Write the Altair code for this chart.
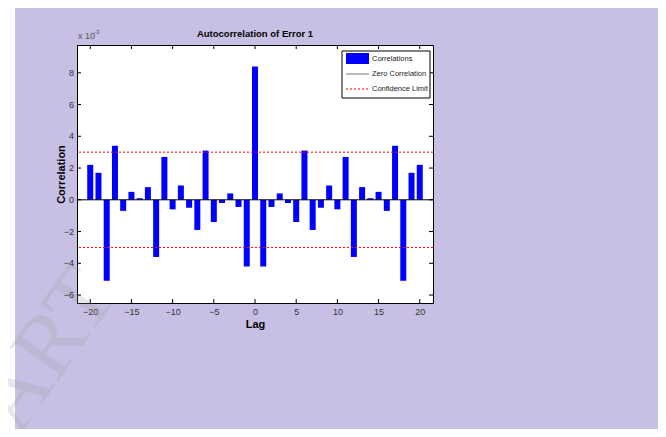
import altair as alt
import pandas as pd

# ---- data (values in units of 1e-3) ----
lags = list(range(-20, 21))
corr = [2.2, 1.7, -5.1, 3.4, -0.7, 0.5, 0.1, 0.8, -3.6, 2.7, -0.6, 0.9, -0.5, -1.9, 3.1, -1.4, -0.2, 0.4, -0.45, -4.2,
        8.4,
        -4.2, -0.45, 0.4, -0.2, -1.4, 3.1, -1.9, -0.5, 0.9, -0.6, 2.7, -3.6, 0.8, 0.1, 0.5, -0.7, 3.4, -5.1, 1.7, 2.2]
conf_limits = [3.0, -3.0]
x_ticks = [-20, -15, -10, -5, 0, 5, 10, 15, 20]
y_ticks = [-6, -4, -2, 0, 2, 4, 6, 8]
x_domain = [-21, 21]
y_domain = [-6.5, 9.75]

W, H = 356, 258
FONT = "Liberation Sans, Arial, sans-serif"
LAV = "#c8c0e4"

df = pd.DataFrame({"lag": lags, "corr": corr})
conf_df = pd.DataFrame({"corr": conf_limits})
xt_df = pd.DataFrame({"lag": x_ticks})
yt_df = pd.DataFrame({"corr": y_ticks})
one = pd.DataFrame({"z": [0]})

xs = alt.Scale(domain=x_domain, nice=False, zero=False)
ys = alt.Scale(domain=y_domain, nice=False, zero=False)

X_ENC = alt.X("lag:Q", scale=xs, title="Lag",
              axis=alt.Axis(values=x_ticks, ticks=False, grid=False, labelPadding=4,
                            labelFontSize=9, labelColor="#333", labelFont=FONT, labelOverlap=False,
                            titleFont=FONT, titleFontSize=11, titleFontWeight="bold", titlePadding=2,
                            domainColor="black"))
Y_ENC = alt.Y("corr:Q", scale=ys, title="Correlation",
              axis=alt.Axis(values=y_ticks, ticks=False, grid=False, labels=False,
                            titleFont=FONT, titleFontSize=11, titleFontWeight="bold", titlePadding=11,
                            domainColor="black"))

bars = alt.Chart(df).mark_bar(color="#0000ff", size=6).encode(x=X_ENC, y=Y_ENC)

zero = alt.Chart(one).mark_rule(color="black", strokeWidth=1).encode(y=alt.datum(0))

conf = alt.Chart(conf_df).mark_rule(color="red", strokeWidth=1, strokeDash=[2, 2]).encode(y=Y_ENC)

tick_bottom = alt.Chart(xt_df).mark_rule(color="black").encode(
    x=X_ENC, y=alt.value(H), y2=alt.value(H - 4))
tick_top = alt.Chart(xt_df).mark_rule(color="black").encode(
    x=X_ENC, y=alt.value(0), y2=alt.value(4))
tick_left = alt.Chart(yt_df).mark_rule(color="black").encode(
    y=Y_ENC, x=alt.value(0), x2=alt.value(4))
tick_right = alt.Chart(yt_df).mark_rule(color="black").encode(
    y=Y_ENC, x=alt.value(W), x2=alt.value(W - 4))
y_labels = alt.Chart(yt_df).mark_text(align="right", baseline="middle", font=FONT, fontSize=9,
                                      color="#333").encode(
    y=Y_ENC, x=alt.value(-3), text=alt.Text("corr:Q", format="d"))

# ---- legend box ----
leg_box = alt.Chart(one).mark_rect(fill="white", stroke="black", strokeWidth=1).encode(
    x=alt.value(265), x2=alt.value(353), y=alt.value(6), y2=alt.value(53))
leg_bar = alt.Chart(one).mark_rect(fill="#0000ff").encode(
    x=alt.value(269), x2=alt.value(292), y=alt.value(8), y2=alt.value(19))
leg_zero = alt.Chart(one).mark_rule(color="#777", strokeWidth=1).encode(
    x=alt.value(269), x2=alt.value(292), y=alt.value(29))
leg_conf = alt.Chart(one).mark_rule(color="red", strokeWidth=1, strokeDash=[2, 2]).encode(
    x=alt.value(269), x2=alt.value(292), y=alt.value(44))
leg_names = ["Correlations", "Zero Correlation", "Confidence Limit"]
leg_y = [14, 29, 44]
leg_texts = [
    alt.Chart(one).mark_text(text=n, align="left", baseline="middle", font=FONT, fontSize=7.5,
                             color="#222").encode(x=alt.value(295), y=alt.value(yy))
    for n, yy in zip(leg_names, leg_y)
]

# ---- title & scale factor label ----
title = alt.Chart(one).mark_text(text="Autocorrelation of Error 1", align="center", baseline="alphabetic",
                                 font=FONT, fontSize=9.5, fontWeight="bold", color="black").encode(
    x=alt.value(W / 2), y=alt.value(-8))
sf = alt.Chart(one).mark_text(text="x 10", align="left", baseline="alphabetic", font=FONT, fontSize=9,
                              color="#555").encode(x=alt.value(1), y=alt.value(-6))
sf_exp = alt.Chart(one).mark_text(text="-3", align="left", baseline="alphabetic", font=FONT, fontSize=6,
                                  color="#555").encode(x=alt.value(17), y=alt.value(-11))

# ---- decorations ----
white_strip = alt.Chart(one).mark_rect(fill="white").encode(
    x=alt.value(-69), x2=alt.value(-62), y=alt.value(-37), y2=alt.value(384))
watermark = alt.Chart(one).mark_text(text="ART", font="Liberation Serif, DejaVu Serif, serif", fontSize=90,
                                     color="#999", opacity=0.22, angle=305, align="center",
                                     baseline="middle").encode(x=alt.value(-30), y=alt.value(305))

chart = alt.layer(
    white_strip, watermark, bars, zero, conf, tick_bottom, tick_top, tick_left, tick_right, y_labels,
    leg_box, leg_bar, leg_zero, leg_conf, *leg_texts, title, sf, sf_exp,
).properties(
    width=W, height=H,
    autosize=alt.AutoSizeParams(type="none"),
    padding={"left": 69, "top": 37, "right": 225, "bottom": 126},
    background=LAV,
).configure_view(
    stroke="black", strokeWidth=1, fill="white"
)

chart.save("out.html", embed_options={"renderer": "svg", "actions": False})
